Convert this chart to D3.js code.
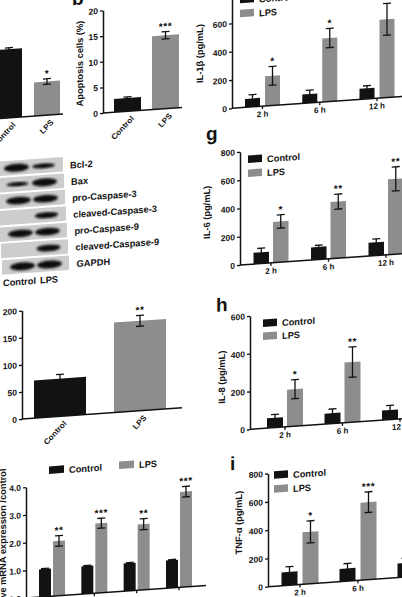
<!DOCTYPE html>
<html>
<head>
<meta charset="utf-8">
<script src="https://cdn.jsdelivr.net/npm/d3@7"></script>
<style>
  html, body { margin: 0; padding: 0; background: #fff; }
  svg { display: block; }
</style>
</head>
<body>
<svg id="fig" width="402" height="597"></svg>
<script>
const FONT = "'Liberation Sans', Arial, sans-serif";
const SKEW = -4;              // the photographed figure is slightly tilted
const BLACK = '#121212';
const GRAY = '#8d8d8d';

const series = ['Control', 'LPS'];
const timeGroups = ['2 h', '6 h', '12 h'];

// panel a (cropped, relative level)
const aValues = [1.0, 0.49];
const aErrors = [0.02, 0.04];
const aStars = ['', '*'];

// panel b, apoptosis
const apoptosisValues = [2.6, 14.3];
const apoptosisErrors = [0.2, 0.7];
const apoptosisStars = ['', '***'];
const apoptosisTicks = [0, 5, 10, 15, 20];

// lower left two-bar panel
const cValues = [69.5, 166];
const cErrors = [8, 10];
const cStars = ['', '**'];
const cTicks = [0, 50, 100, 150, 200];

// western blot
const blotProteins = ['Bcl-2', 'Bax', 'pro-Caspase-3', 'cleaved-Caspase-3',
  'pro-Caspase-9', 'cleaved-Caspase-9', 'GAPDH'];
const blotControl = [1.0, 0.45, 0.95, 0.0, 0.95, 0.0, 1.0];
const blotLps = [0.55, 1.0, 0.95, 0.7, 0.95, 0.8, 1.0];

// relative mRNA expression
const mrnaGenes = ['IL-1β', 'IL-6', 'IL-8', 'TNF-α'];
const mrnaControl = [1, 1, 1, 1];
const mrnaControlErr = [0.02, 0.02, 0.02, 0.02];
const mrnaLps = [1.98, 2.51, 2.37, 3.44];
const mrnaLpsErr = [0.19, 0.18, 0.2, 0.19];
const mrnaStars = ['**', '***', '**', '***'];
const mrnaTicks = [0, 1, 2, 3, 4];

// cytokines (pg/mL)
const il1bControl = [60, 62, 75];
const il1bControlErr = [27, 28, 18];
const il1bLps = [210, 449, 553];
const il1bLpsErr = [66, 68, 112];
const il1bStars = ['*', '*', '*'];

const il6Control = [80, 89, 94];
const il6ControlErr = [28, 12, 23];
const il6Lps = [288, 400, 532];
const il6LpsErr = [47, 53, 85];
const il6Stars = ['*', '**', '**'];

const il8Control = [52, 55, 50];
const il8ControlErr = [18, 22, 25];
const il8Lps = [196, 318, 475];
const il8LpsErr = [50, 80, 45];
const il8Stars = ['*', '**', '**'];

const tnfControl = [94, 90, 100];
const tnfControlErr = [37, 35, 35];
const tnfLps = [367, 548, 600];
const tnfLpsErr = [78, 73, 80];
const tnfStars = ['*', '***', '**'];

const ticks800 = [0, 200, 400, 600, 800];
const ticks600 = [0, 200, 400, 600];

const svg = d3.select('#fig');
const colour = d3.scaleOrdinal().domain(series).range([BLACK, GRAY]);

function panelGroup(ox, oy) {
  return svg.append('g')
    .attr('transform', `translate(${ox},${oy}) skewY(${SKEW})`)
    .attr('font-family', FONT)
    .attr('font-weight', 'bold');
}

function drawYAxis(g, y, ticks) {
  g.append('g')
    .call(d3.axisLeft(y).tickValues(ticks).tickSize(3).tickSizeOuter(0).tickPadding(2))
    .attr('font-family', FONT)
    .attr('font-size', 8.5)
    .attr('font-weight', 'bold')
    .call(a => a.select('.domain').attr('stroke', BLACK).attr('stroke-width', 1.5))
    .call(a => a.selectAll('.tick line').attr('stroke', BLACK).attr('stroke-width', 1.3))
    .call(a => a.selectAll('.tick text').attr('fill', BLACK));
}

function drawErrors(g, data, y) {
  const eb = g.append('g').attr('stroke', BLACK).attr('stroke-width', 1.3);
  data.forEach(d => {
    if (!d.e) return;
    eb.append('line').attr('x1', d.cx).attr('x2', d.cx)
      .attr('y1', y(d.v - d.e)).attr('y2', y(d.v + d.e));
    [d.v - d.e, d.v + d.e].forEach(val => {
      eb.append('line').attr('x1', d.cx - 4).attr('x2', d.cx + 4)
        .attr('y1', y(val)).attr('y2', y(val));
    });
  });
  g.append('g').selectAll('text')
    .data(data.filter(d => d.star))
    .join('text')
      .attr('x', d => d.cx)
      .attr('y', d => y(d.v + d.e) - 2)
      .attr('text-anchor', 'middle')
      .attr('font-size', 10)
      .attr('letter-spacing', 0.6)
      .attr('fill', BLACK)
      .text(d => d.star);
}

function drawLetter(g, x, y, letter) {
  g.append('text').attr('x', x).attr('y', y)
    .attr('font-size', 19).attr('fill', BLACK).text(letter);
}

function drawYLabel(g, x, y, label, anchor) {
  g.append('text')
    .attr('transform', `translate(${x},${y}) rotate(-90)`)
    .attr('text-anchor', anchor || 'middle')
    .attr('font-size', 9.3)
    .attr('fill', BLACK)
    .text(label);
}

// two bars with rotated category labels
function twoBarPanel(o) {
  const g = panelGroup(o.ox, o.oy);
  const y = d3.scaleLinear().domain([0, o.yMax]).range([0, -o.h]);
  const step = o.centers[1] - o.centers[0];
  const x = d3.scaleBand().domain(series)
    .range([o.centers[0] - step / 2, o.centers[1] + step / 2])
    .paddingInner(1 - o.barW / step).paddingOuter((1 - o.barW / step) / 2);

  const data = series.map((s, i) => ({
    s, v: o.values[i], e: o.errors[i], star: o.stars[i],
    cx: x(s) + x.bandwidth() / 2
  }));

  g.selectAll('rect').data(data).join('rect')
    .attr('x', d => x(d.s)).attr('width', x.bandwidth())
    .attr('y', d => y(d.v)).attr('height', d => -y(d.v))
    .attr('fill', d => colour(d.s));

  drawErrors(g, data, y);

  g.append('line').attr('x1', 0).attr('x2', o.axisLen)
    .attr('stroke', BLACK).attr('stroke-width', 1.5);
  if (o.ticks) drawYAxis(g, y, o.ticks);

  g.append('g').selectAll('text').data(data).join('text')
    .attr('transform', d => `translate(${d.cx + 5},6) rotate(-45)`)
    .attr('text-anchor', 'end')
    .attr('dy', '0.35em')
    .attr('font-size', 8)
    .attr('fill', BLACK)
    .text(d => d.s);
  return g;
}

// grouped bars for the time course and mRNA panels
function groupedPanel(o) {
  const g = panelGroup(o.ox, o.oy);
  const y = d3.scaleLinear().domain([0, o.yMax]).range([0, -o.h]);
  const start = o.first - o.step / 2;
  const x = d3.scaleBand().domain(o.groups).range([start, start + o.step * o.groups.length]);
  const inner = d3.scaleBand().domain(series)
    .range([-(o.barW + o.gap / 2), o.barW + o.gap / 2])
    .paddingInner(o.gap / (o.barW + o.gap));

  const data = [];
  o.groups.forEach((grp, i) => {
    series.forEach((s, j) => {
      const left = x(grp) + x.bandwidth() / 2 + inner(s);
      data.push({
        grp, s, v: o.values[j][i], e: o.errors[j][i],
        star: j === 1 ? o.stars[i] : '',
        left, cx: left + inner.bandwidth() / 2
      });
    });
  });

  g.selectAll('rect').data(data).join('rect')
    .attr('x', d => d.left).attr('width', inner.bandwidth())
    .attr('y', d => y(d.v)).attr('height', d => -y(d.v))
    .attr('fill', d => colour(d.s));

  drawErrors(g, data, y);

  g.append('line').attr('x1', 0).attr('x2', o.axisLen)
    .attr('stroke', BLACK).attr('stroke-width', 1.5);
  g.append('g')
    .call(d3.axisBottom(x).tickSize(3).tickSizeOuter(0).tickPadding(o.labelPad || 2))
    .attr('font-family', FONT)
    .attr('font-size', 8)
    .attr('font-weight', 'bold')
    .call(a => a.select('.domain').remove())
    .call(a => a.selectAll('.tick line').attr('stroke', BLACK).attr('stroke-width', 1.3))
    .call(a => a.selectAll('.tick text').attr('fill', BLACK));

  drawYAxis(g, y, o.ticks);

  // legend
  const lg = g.append('g');
  series.forEach((s, i) => {
    const lx = o.legend.horizontal ? o.legend.xs[i] : o.legend.x;
    const ly = o.legend.horizontal ? o.legend.y : o.legend.y + i * o.legend.dy;
    const w = o.legend.w || 14;
    lg.append('rect').attr('x', lx).attr('y', ly)
      .attr('width', w).attr('height', 7.5).attr('fill', colour(s));
    lg.append('text').attr('x', lx + w + 5).attr('y', ly + 8)
      .attr('font-size', 9.3).attr('fill', BLACK).text(s);
  });
  return g;
}

// ---- panel a (cropped at the left edge)
twoBarPanel({
  ox: -25, oy: 120.2, yMax: 1, h: 68.7, centers: [34, 72], barW: 26, axisLen: 88,
  values: aValues, errors: aErrors, stars: aStars
});

// ---- panel b
const gb = twoBarPanel({
  ox: 103, oy: 113, yMax: 20, h: 102.6, centers: [24.5, 62.5], barW: 27, axisLen: 79,
  values: apoptosisValues, errors: apoptosisErrors, stars: apoptosisStars,
  ticks: apoptosisTicks
});
drawYLabel(gb, -20, -51, 'Apoptosis cells (%)');
drawLetter(gb, -31, -110, 'b');

// ---- western blot
const gw = panelGroup(0, 161.4);
const lane = d3.scaleBand().domain(series).range([3, 57]);
const defs = svg.append('defs');
defs.append('filter').attr('id', 'soft')
  .append('feGaussianBlur').attr('stdDeviation', 0.8);
blotProteins.forEach((p, i) => {
  const top = i * 16.5;
  const shift = i * 1.0;
  gw.append('rect').attr('x', -4 + shift).attr('y', top)
    .attr('width', 67).attr('height', 14.5).attr('fill', '#cdcdcd');
  [blotControl[i], blotLps[i]].forEach((level, j) => {
    if (level < 0.1) return;
    gw.append('ellipse')
      .attr('cx', lane(series[j]) + lane.bandwidth() / 2 + shift)
      .attr('cy', top + 7.5)
      .attr('rx', 10 + 2.5 * level)
      .attr('ry', 0.8 + 3.2 * level)
      .attr('fill', '#111')
      .attr('filter', 'url(#soft)');
  });
  gw.append('text').attr('x', 70 + i * 1.1).attr('y', top + 12)
    .attr('font-size', 9.3).attr('fill', BLACK).text(p);
});
series.forEach((s, j) => {
  gw.append('text')
    .attr('x', j === 0 ? 36 : 40)
    .attr('y', 125)
    .attr('text-anchor', j === 0 ? 'end' : 'start')
    .attr('font-size', 9.3).attr('fill', BLACK).text(s);
});

// ---- lower left two-bar panel
twoBarPanel({
  ox: 22, oy: 419, yMax: 200, h: 108.4, centers: [38, 118], barW: 52, axisLen: 160,
  values: cValues, errors: cErrors, stars: cStars, ticks: cTicks
});

// ---- relative mRNA expression
const gm = groupedPanel({
  ox: 26, oy: 598, yMax: 4, h: 110.8, groups: mrnaGenes,
  first: 26, step: 42.33, barW: 12, gap: 2, axisLen: 180, labelPad: 14,
  values: [mrnaControl, mrnaLps], errors: [mrnaControlErr, mrnaLpsErr],
  stars: mrnaStars, ticks: mrnaTicks,
  legend: { horizontal: true, xs: [23, 93], y: -130, w: 15 }
});
drawYLabel(gm, -20, -131, 'Relative mRNA expression /control', 'end');

// ---- f: IL-1β
const gf = groupedPanel({
  ox: 232, oy: 108.3, yMax: 800, h: 113.2, groups: timeGroups,
  first: 30.5, step: 57.25, barW: 15, gap: 5, axisLen: 180,
  values: [il1bControl, il1bLps], errors: [il1bControlErr, il1bLpsErr],
  stars: il1bStars, ticks: ticks800,
  legend: { x: 8, y: -112, dy: 14 }
});
drawYLabel(gf, -29, -57, 'IL-1β (pg/mL)');

// ---- g: IL-6
const gg = groupedPanel({
  ox: 240, oy: 265, yMax: 800, h: 113.2, groups: timeGroups,
  first: 31, step: 57.5, barW: 15.5, gap: 4, axisLen: 175,
  values: [il6Control, il6Lps], errors: [il6ControlErr, il6LpsErr],
  stars: il6Stars, ticks: ticks800,
  legend: { x: 8, y: -109, dy: 14 }
});
drawYLabel(gg, -30, -55, 'IL-6 (pg/mL)');
drawLetter(gg, -34, -127, 'g');

// ---- h: IL-8
const gh = groupedPanel({
  ox: 250, oy: 429.3, yMax: 600, h: 113.4, groups: timeGroups,
  first: 35, step: 57.5, barW: 16, gap: 4, axisLen: 170,
  values: [il8Control, il8Lps], errors: [il8ControlErr, il8LpsErr],
  stars: il8Stars, ticks: ticks600,
  legend: { x: 13, y: -109, dy: 13 }
});
drawYLabel(gh, -25, -54, 'IL-8 (pg/mL)');
drawLetter(gh, -34, -120, 'h');

// ---- i: TNF-α
const gi = groupedPanel({
  ox: 268, oy: 586.7, yMax: 800, h: 113.2, groups: timeGroups,
  first: 32, step: 58, barW: 16, gap: 5, axisLen: 150,
  values: [tnfControl, tnfLps], errors: [tnfControlErr, tnfLpsErr],
  stars: tnfStars, ticks: ticks800,
  legend: { x: 6, y: -115, dy: 14 }
});
drawYLabel(gi, -26, -66, 'TNF-α (pg/mL)');
drawLetter(gi, -38, -119, 'i');
</script>
</body>
</html>
